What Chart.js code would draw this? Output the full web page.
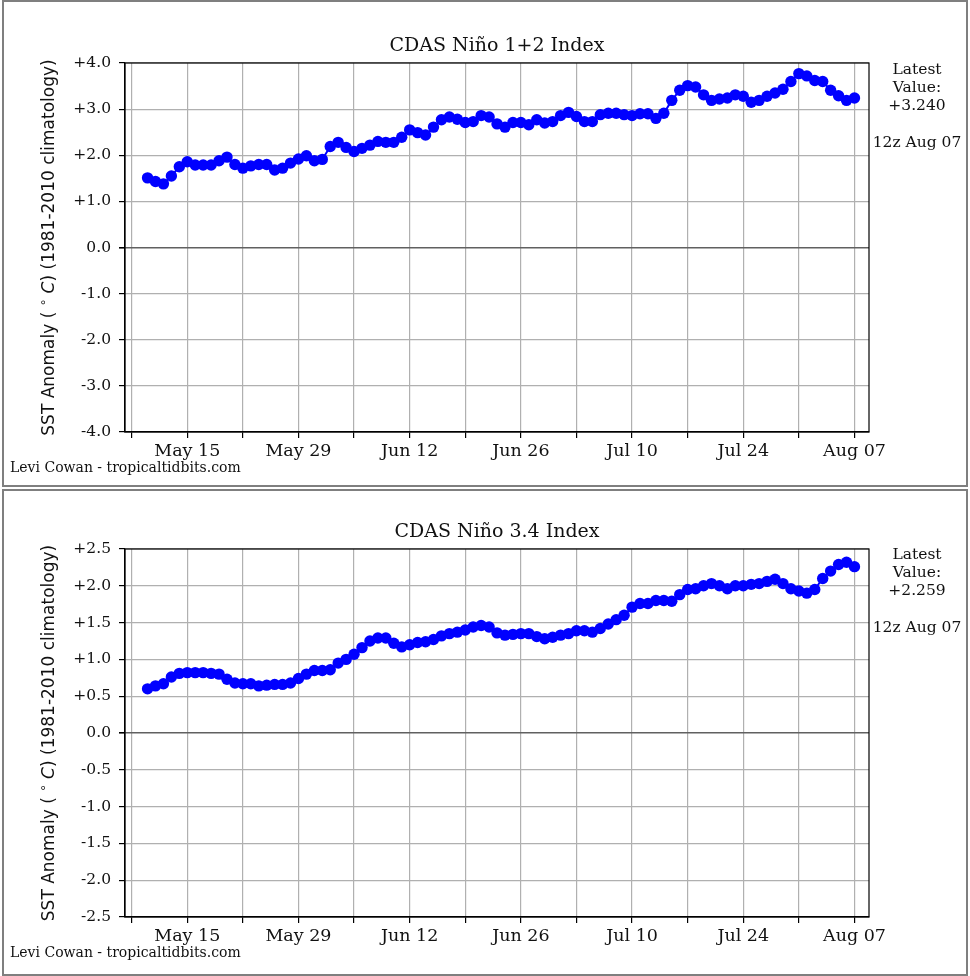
<!DOCTYPE html>
<html>
<head>
<meta charset="utf-8">
<script src="https://cdn.jsdelivr.net/npm/chart.js@4.4.1/dist/chart.umd.min.js"></script>
<style>
  body { margin: 0; background: #fff; width: 970px; height: 976px; position: relative; overflow: hidden; }
  .panel { position: absolute; left: 0; width: 970px; height: 488px; }
  .frame { position: absolute; left: 2px; width: 966px; height: 487px; box-sizing: border-box; border: 2px solid #7f7f7f; pointer-events: none; }
</style>
</head>
<body>
<div class="panel" style="top:0"><canvas id="nino12"></canvas></div>
<div class="panel" style="top:488px"><canvas id="nino34"></canvas></div>
<div class="frame" style="top:0"></div>
<div class="frame" style="top:489px"></div>
<script>
// days counted from May 15; one value per day, May 10 .. Aug 07
const days = Array.from({ length: 90 }, (_, i) => i - 5);

const nino12 = [
  1.51, 1.43, 1.38, 1.55, 1.75, 1.86, 1.79, 1.79, 1.79, 1.88,
  1.96, 1.80, 1.72, 1.77, 1.80, 1.80, 1.68, 1.72, 1.83, 1.92,
  1.99, 1.88, 1.91, 2.19, 2.28, 2.17, 2.08, 2.15, 2.22, 2.30,
  2.28, 2.28, 2.39, 2.55, 2.49, 2.44, 2.61, 2.77, 2.83, 2.78,
  2.71, 2.73, 2.86, 2.83, 2.68, 2.61, 2.71, 2.71, 2.66, 2.77,
  2.70, 2.73, 2.86, 2.93, 2.84, 2.73, 2.73, 2.88, 2.91, 2.91,
  2.88, 2.86, 2.90, 2.90, 2.80, 2.91, 3.19, 3.41, 3.51, 3.48,
  3.31, 3.19, 3.22, 3.24, 3.31, 3.28, 3.15, 3.19, 3.28, 3.35,
  3.43, 3.60, 3.77, 3.72, 3.62, 3.60, 3.41, 3.29, 3.19, 3.24
];

const nino34 = [
  0.60, 0.64, 0.67, 0.76, 0.81, 0.82, 0.82, 0.82, 0.81, 0.80,
  0.73, 0.68, 0.67, 0.67, 0.64, 0.65, 0.66, 0.66, 0.68, 0.74,
  0.80, 0.85, 0.85, 0.86, 0.95, 1.00, 1.07, 1.16, 1.25, 1.29,
  1.29, 1.22, 1.17, 1.20, 1.23, 1.24, 1.27, 1.32, 1.35, 1.37,
  1.40, 1.44, 1.46, 1.44, 1.36, 1.33, 1.34, 1.35, 1.35, 1.31,
  1.28, 1.30, 1.33, 1.35, 1.39, 1.39, 1.37, 1.42, 1.48, 1.54,
  1.60, 1.71, 1.76, 1.76, 1.80, 1.80, 1.79, 1.88, 1.95, 1.96,
  2.00, 2.03, 2.00, 1.96, 2.00, 2.00, 2.02, 2.03, 2.06, 2.09,
  2.03, 1.96, 1.93, 1.90, 1.95, 2.10, 2.20, 2.29, 2.32, 2.26
];

const tickDays = [-7, 0, 7, 14, 21, 28, 35, 42, 49, 56, 63, 70, 77, 84];
const tickLabels = ['', 'May 15', '', 'May 29', '', 'Jun 12', '', 'Jun 26', '', 'Jul 10', '', 'Jul 24', '', 'Aug 07'];
const yTicks12 = [-4, -3, -2, -1, 0, 1, 2, 3, 4];
const yTicks34 = [-2.5, -2, -1.5, -1, -0.5, 0, 0.5, 1, 1.5, 2, 2.5];

const xMin = -7.84;
const xMax = 85.83;
const serif = '"DejaVu Serif", serif';

const panelText = {
  id: 'panelText',
  afterDraw(chart, args, o) {
    const { ctx, chartArea: { left, right, top, bottom } } = chart;
    ctx.save();
    ctx.strokeStyle = '#000';
    ctx.lineWidth = 1.2;
    ctx.strokeRect(left, top, right - left, bottom - top);

    ctx.fillStyle = '#111';
    ctx.textAlign = 'center';
    ctx.textBaseline = 'middle';
    ctx.font = '19px ' + serif;
    ctx.fillText(o.title, (left + right) / 2, top - 17);

    ctx.font = '15.5px ' + serif;
    ['Latest', 'Value:', o.latest].forEach((t, i) => ctx.fillText(t, 917, top + o.textTop + i * 18));
    ctx.fillText(o.stamp, 917, top + o.textTop + 73);

    ctx.textAlign = 'left';
    ctx.font = '14px ' + serif;
    ctx.fillText('Levi Cowan - tropicaltidbits.com', 10, bottom + 36);

    // y label: SST Anomaly (°C) (1981-2010 climatology)
    const parts = [
      ['SST Anomaly ( ', '17px "DejaVu Sans"', 0],
      ['\u2218', '12px "DejaVu Sans"', -6],
      [' C', 'italic 17px "DejaVu Sans"', 0],
      [') (1981-2010 climatology)', '17px "DejaVu Sans"', 0]
    ];
    let total = 0;
    parts.forEach(p => { ctx.font = p[1]; total += ctx.measureText(p[0]).width; });
    ctx.translate(50, (top + bottom) / 2);
    ctx.rotate(-Math.PI / 2);
    let x = -total / 2;
    parts.forEach(p => {
      ctx.font = p[1];
      ctx.fillText(p[0], x, p[2]);
      x += ctx.measureText(p[0]).width;
    });
    ctx.restore();
  }
};

function makePanel(canvasId, values, yTicks, title, latest, padTop, padBottom, textTop) {
  return new Chart(document.getElementById(canvasId), {
    type: 'line',
    data: {
      datasets: [{
        data: values.map((v, i) => ({ x: days[i], y: v })),
        borderColor: '#0000ff',
        backgroundColor: '#0000ff',
        borderWidth: 2,
        pointRadius: 5.7,
        pointHoverRadius: 5.7,
        pointBorderWidth: 0,
        tension: 0,
      }],
    },
    options: {
      responsive: true,
      maintainAspectRatio: false,
      animation: false,
      layout: { padding: { left: 0, right: 101, top: padTop, bottom: padBottom } },
      plugins: {
        legend: { display: false },
        tooltip: { enabled: false },
        panelText: { title, latest, stamp: '12z Aug 07', textTop },
      },
      scales: {
        x: {
          type: 'linear',
          min: xMin,
          max: xMax,
          afterBuildTicks: s => { s.ticks = tickDays.map(v => ({ value: v })); },
          afterFit: s => { s.height = 40; },
          grid: { color: '#b0b0b0', lineWidth: 1.2, tickColor: '#000', tickLength: 6 },
          border: { color: '#000', width: 1.2 },
          ticks: {
            autoSkip: false,
            maxRotation: 0,
            padding: 3,
            color: '#111',
            font: { family: serif, size: 17.5 },
            callback: v => tickLabels[tickDays.indexOf(v)] ?? '',
          },
        },
        y: {
          type: 'linear',
          min: yTicks[0],
          max: yTicks[yTicks.length - 1],
          afterBuildTicks: s => { s.ticks = yTicks.map(v => ({ value: v })); },
          afterFit: s => { s.width = 125; },
          grid: {
            color: c => (c.tick && c.tick.value === 0 ? '#606060' : '#b0b0b0'),
            lineWidth: c => (c.tick && c.tick.value === 0 ? 1.6 : 1.2),
            tickColor: '#000',
            tickLength: 6,
          },
          border: { color: '#000', width: 1.2 },
          ticks: {
            autoSkip: false,
            padding: 8,
            color: '#111',
            font: { family: serif, size: 15.5 },
            callback: v => (v > 0 ? '+' : '') + Number(v).toFixed(1),
          },
        },
      },
    },
    plugins: [panelText],
  });
}

makePanel('nino12', nino12, yTicks12, 'CDAS Ni\u00f1o 1+2 Index', '+3.240', 63, 16, 7);
makePanel('nino34', nino34, yTicks34, 'CDAS Ni\u00f1o 3.4 Index', '+2.259', 61, 19, 6);
</script>
</body>
</html>
